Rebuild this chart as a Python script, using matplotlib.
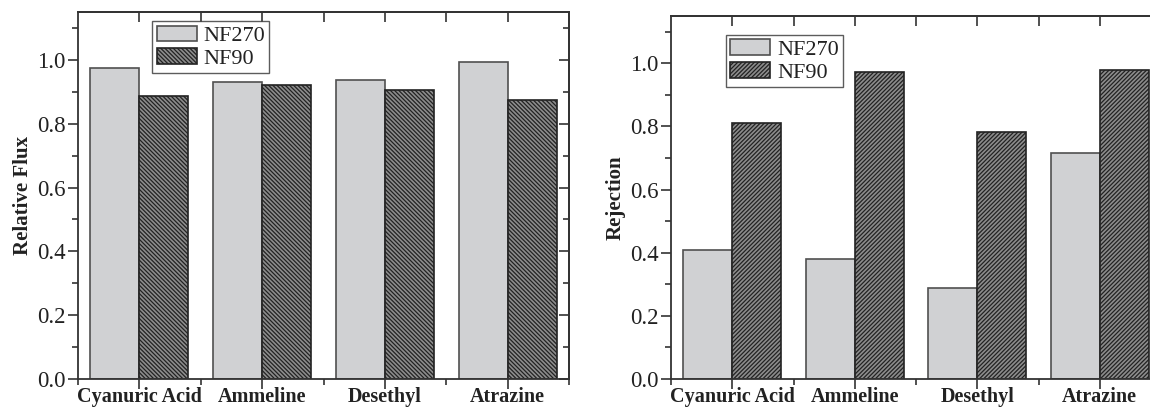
import numpy as np
import matplotlib
matplotlib.use("Agg")
from matplotlib import pyplot as plt
from matplotlib.ticker import MultipleLocator, FixedLocator

plt.rcParams['font.family'] = ['Liberation Serif', 'DejaVu Serif']
plt.rcParams['hatch.linewidth'] = 0.9

compounds = ['Cyanuric Acid', 'Ammeline', 'Desethyl', 'Atrazine']
series = ['NF270', 'NF90']

flux_nf270 = [0.974, 0.930, 0.936, 0.993]
flux_nf90 = [0.888, 0.922, 0.906, 0.875]

rej_nf270 = [0.409, 0.380, 0.287, 0.716]
rej_nf90 = [0.811, 0.972, 0.784, 0.978]

light = '#d0d1d3'
dark = '#8c8c8c'
ink = '#222222'
spine = '#333333'


def panel(ax, a, b, ylabel, hatch, legend_anchor):
    x = np.arange(len(compounds))
    w = 0.4
    ax.bar(x - w / 2, a, w, color=light, edgecolor='#505050', linewidth=1.2,
           label=series[0])
    ax.bar(x + w / 2, b, w, color=dark, edgecolor=ink, linewidth=1.2,
           hatch=hatch, label=series[1])

    ax.set_xlim(-0.5, 3.5)
    ax.set_ylim(0, 1.15)
    ax.set_xticks(x)
    ax.set_xticklabels(compounds, fontsize=14.5, fontweight='bold', color=ink)
    ax.xaxis.set_minor_locator(FixedLocator([-0.5, 0.5, 1.5, 2.5, 3.5]))
    ticks = np.arange(0, 1.01, 0.2)
    ax.set_yticks(ticks)
    ax.set_yticklabels(['%.1f' % v for v in ticks], fontsize=16.5, color=ink)
    ax.yaxis.set_minor_locator(MultipleLocator(0.1))
    ax.set_ylabel(ylabel, fontsize=15, fontweight='bold', color=ink, labelpad=3)

    for s in ax.spines.values():
        s.set_linewidth(1.3)
        s.set_color(spine)

    ax.tick_params(axis='both', which='major', direction='out', length=7,
                   width=1.2, color=spine, pad=2)
    ax.tick_params(axis='x', which='major', pad=-1)
    ax.tick_params(axis='both', which='minor', direction='out', length=4,
                   width=1.2, color=spine)

    # mirrored ticks on top and right, pointing in
    top = ax.secondary_xaxis('top')
    top.set_xticks(x)
    top.xaxis.set_minor_locator(FixedLocator([0.5, 1.5, 2.5]))
    top.set_xticklabels([])
    top.tick_params(which='both', direction='in', length=7, width=1.2, color=spine)
    right = ax.secondary_yaxis('right')
    right.yaxis.set_major_locator(MultipleLocator(0.2))
    right.yaxis.set_minor_locator(MultipleLocator(0.1))
    right.set_yticklabels([])
    right.tick_params(which='major', direction='in', length=7, width=1.2, color=spine)
    right.tick_params(which='minor', direction='in', length=4, width=1.2, color=spine)
    for sec in (top, right):
        for s in sec.spines.values():
            s.set_linewidth(1.3)
            s.set_color(spine)

    leg = ax.legend(loc='upper left', bbox_to_anchor=legend_anchor, fontsize=16,
                    frameon=True, fancybox=False, handlelength=1.8,
                    handleheight=0.7, handletextpad=0.3, labelspacing=0.1,
                    borderpad=0.2, borderaxespad=0)
    leg.get_frame().set_edgecolor(spine)
    leg.get_frame().set_linewidth(1.0)
    for t in leg.get_texts():
        t.set_color(ink)


fig = plt.figure(figsize=(11.5, 4.07), dpi=100)
ax1 = fig.add_axes([78 / 1150, 28 / 407, 491 / 1150, 367 / 407])
ax2 = fig.add_axes([671 / 1150, 28 / 407, 490 / 1150, 363 / 407])

panel(ax1, flux_nf270, flux_nf90, 'Relative Flux', '\\' * 8, (0.151, 0.975))
panel(ax2, rej_nf270, rej_nf90, 'Rejection', '/' * 8, (0.112, 0.948))

fig.savefig('out.png', dpi=100)
